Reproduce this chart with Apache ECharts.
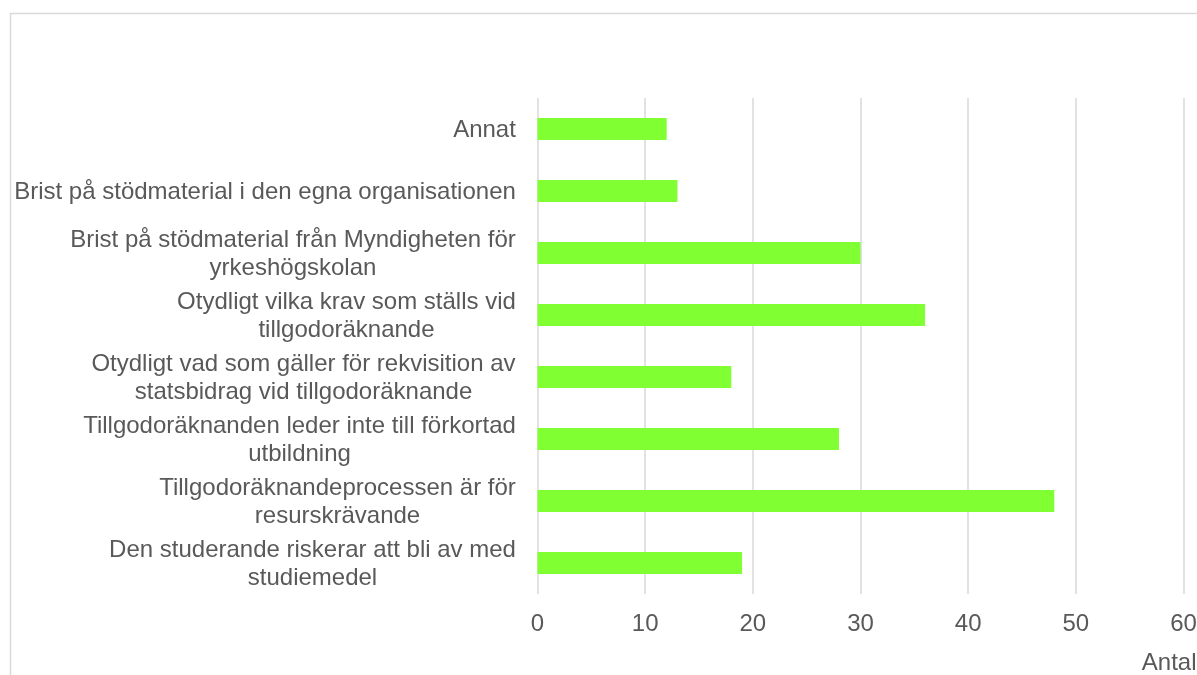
<!DOCTYPE html>
<html>
<head>
<meta charset="utf-8">
<script src="https://cdn.jsdelivr.net/npm/echarts@6/dist/echarts.min.js"></script>
<style>
  html, body { margin: 0; padding: 0; background: #fff; overflow: hidden; }
  #chart-container { width: 1197px; height: 675px; }
</style>
</head>
<body>
<div id="chart-container"></div>
<script>
var categories = [
  'Annat',
  'Brist på stödmaterial i den egna organisationen',
  'Brist på stödmaterial från Myndigheten för\nyrkeshögskolan',
  'Otydligt vilka krav som ställs vid\ntillgodoräknande',
  'Otydligt vad som gäller för rekvisition av\nstatsbidrag vid tillgodoräknande',
  'Tillgodoräknanden leder inte till förkortad\nutbildning',
  'Tillgodoräknandeprocessen är för\nresurskrävande',
  'Den studerande riskerar att bli av med\nstudiemedel'
];
var counts = [12, 13, 30, 36, 18, 28, 48, 19];
var axisName = 'Antal';

var fontFamily = 'Arial, "Liberation Sans", sans-serif';
var fontSize = 24;
var textColor = '#595959';

var chartDom = document.getElementById('chart-container');
var myChart = echarts.init(chartDom);

// measure each label so multi-line labels can be centred inside their block
var ctx = document.createElement('canvas').getContext('2d');
ctx.font = fontSize + 'px ' + fontFamily;
var rich = {};
categories.forEach(function(label, i) {
  var w = 0;
  label.split('\n').forEach(function(line) {
    w = Math.max(w, ctx.measureText(line).width);
  });
  rich['w' + i] = {
    width: Math.ceil(w) + 1,
    align: 'center',
    fontSize: fontSize,
    fontFamily: fontFamily,
    color: textColor,
    lineHeight: 28
  };
});

var option = {
  animation: false,
  grid: {
    left: 537.5,
    right: 13.5,
    top: 98,
    bottom: 81,
    containLabel: false,
    outerBoundsMode: 'none'
  },
  graphic: [{
    type: 'rect',
    shape: { x: 10.5, y: 13.5, width: 1400, height: 1000 },
    style: { fill: 'none', stroke: '#d9d9d9', lineWidth: 1.5 },
    silent: true
  }],
  xAxis: {
    type: 'value',
    min: 0,
    max: 60,
    interval: 10,
    name: axisName,
    nameLocation: 'end',
    nameGap: 13,
    nameTextStyle: {
      color: textColor,
      fontSize: fontSize,
      fontFamily: fontFamily,
      align: 'right',
      verticalAlign: 'top',
      padding: [57, 0, 0, 0]
    },
    axisLine: { show: false },
    axisTick: { show: false },
    axisLabel: {
      color: textColor,
      fontSize: fontSize,
      fontFamily: fontFamily,
      margin: 18
    },
    splitLine: {
      show: true,
      lineStyle: { color: '#d9d9d9', width: 1.5 }
    }
  },
  yAxis: {
    type: 'category',
    inverse: true,
    data: categories,
    axisLine: { show: false },
    axisTick: { show: false },
    axisLabel: {
      margin: 21,
      align: 'right',
      padding: [3, 0, 0, 0],
      formatter: function(value, index) {
        return value.split('\n').map(function(line) {
          return '{w' + index + '|' + line + '}';
        }).join('\n');
      },
      rich: rich
    }
  },
  series: [{
    type: 'bar',
    data: counts,
    barWidth: 22,
    itemStyle: { color: '#80ff33' }
  }]
};

option && myChart.setOption(option);
</script>
</body>
</html>
